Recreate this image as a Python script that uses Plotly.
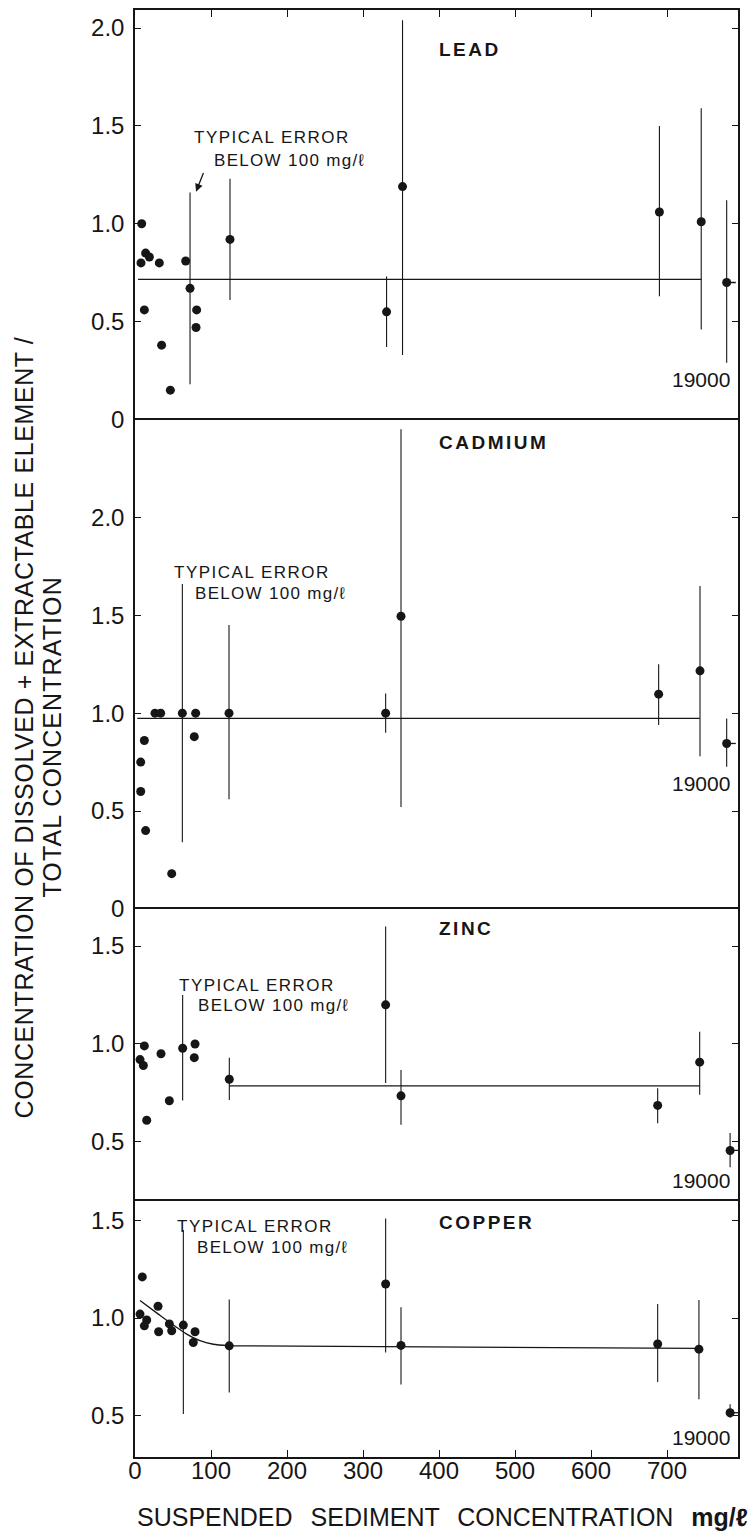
import plotly.graph_objects as go
from plotly.subplots import make_subplots

FONT = "Liberation Sans, Arial, Helvetica, sans-serif"
INK = "#161616"

# Suspended sediment concentration (mg/l) and concentration ratios for each element.
# Points plotted without error bars
lead_x = [7.9, 8.8, 12.3, 14.0, 18.9, 32.0, 35.0, 46.5, 66.7, 80.3, 81.1]
lead_y = [0.80, 1.00, 0.56, 0.85, 0.83, 0.80, 0.38, 0.15, 0.81, 0.47, 0.56]
# Points with error bars (value, upper end, lower end)
lead_ex = [72.4, 125, 331, 352, 690, 745]
lead_ey = [0.67, 0.92, 0.55, 1.19, 1.06, 1.01]
lead_hi = [1.16, 1.23, 0.73, 2.04, 1.50, 1.59]
lead_lo = [0.18, 0.61, 0.37, 0.33, 0.63, 0.46]
# 19000 mg/l sample, placed at the break beyond 700
lead_far = dict(x=778.5, y=0.70, hi=1.12, lo=0.29)
lead_mean = dict(x=[4, 745], y=[0.716, 0.716])

cad_x = [7.5, 7.5, 12.3, 14.0, 26.3, 33.8, 48.3, 79.8, 78.0]
cad_y = [0.75, 0.60, 0.86, 0.40, 1.00, 1.00, 0.18, 1.00, 0.88]
cad_ex = [62.3, 123.7, 329.8, 350, 689, 743.4]
cad_ey = [1.00, 1.00, 1.00, 1.495, 1.097, 1.216]
cad_hi = [1.66, 1.45, 1.10, 2.45, 1.25, 1.65]
cad_lo = [0.34, 0.56, 0.90, 0.52, 0.94, 0.78]
cad_far = dict(x=778.5, y=0.845, hi=0.973, lo=0.726)
cad_mean = dict(x=[3, 743], y=[0.973, 0.973])

zinc_x = [6.6, 11.0, 12.3, 15.4, 34.2, 45.2, 79.0, 78.0]
zinc_y = [0.92, 0.89, 0.99, 0.61, 0.95, 0.71, 1.00, 0.93]
zinc_ex = [62.7, 124.1, 329.8, 350, 687.7, 743]
zinc_ey = [0.978, 0.82, 1.20, 0.735, 0.686, 0.907]
zinc_hi = [1.25, 0.93, 1.60, 0.867, 0.774, 1.063]
zinc_lo = [0.711, 0.714, 0.80, 0.587, 0.595, 0.74]
zinc_far = dict(x=783, y=0.456, hi=0.545, lo=0.37)
zinc_mean = dict(x=[124, 743], y=[0.786, 0.786])

cu_x = [9.6, 6.6, 15.4, 12.3, 30.3, 31.1, 45.2, 48.3, 79.0, 76.7]
cu_y = [1.21, 1.02, 0.99, 0.96, 1.06, 0.93, 0.97, 0.935, 0.93, 0.875]
cu_ex = [63.6, 124, 329.8, 350, 687.7, 742]
cu_ey = [0.964, 0.858, 1.174, 0.86, 0.867, 0.841]
cu_hi = [1.45, 1.094, 1.508, 1.055, 1.072, 1.092]
cu_lo = [0.51, 0.619, 0.824, 0.66, 0.673, 0.585]
cu_far = dict(x=783, y=0.516, hi=0.559, lo=0.49)
# hand-fitted trend: curved segment below ~125 mg/l, then flat
cu_curve_x = [6.6, 30.7, 50.4, 68, 85.5, 103, 124]
cu_curve_y = [1.089, 1.02, 0.964, 0.918, 0.884, 0.866, 0.858]
cu_flat = dict(x=[124, 742], y=[0.858, 0.845])

x_ticks = [0, 100, 200, 300, 400, 500, 600, 700]

panels = [
    dict(name="LEAD", x=lead_x, y=lead_y, ex=lead_ex, ey=lead_ey, hi=lead_hi, lo=lead_lo,
         far=lead_far, lines=[(lead_mean["x"], lead_mean["y"], "linear")],
         yrange=[0, 2.092], yticks=[0, 0.5, 1.0, 1.5, 2.0],
         label_y=1.89, err_txt=(74.6, 1.443, 100.9, 1.325), far_lbl_y=0.205),
    dict(name="CADMIUM", x=cad_x, y=cad_y, ex=cad_ex, ey=cad_ey, hi=cad_hi, lo=cad_lo,
         far=cad_far, lines=[(cad_mean["x"], cad_mean["y"], "linear")],
         yrange=[0, 2.5], yticks=[0, 0.5, 1.0, 1.5, 2.0],
         label_y=2.384, err_txt=(48.7, 1.721, 76.3, 1.612), far_lbl_y=0.643),
    dict(name="ZINC", x=zinc_x, y=zinc_y, ex=zinc_ex, ey=zinc_ey, hi=zinc_hi, lo=zinc_lo,
         far=zinc_far, lines=[(zinc_mean["x"], zinc_mean["y"], "linear")],
         yrange=[0.2, 1.69], yticks=[0.5, 1.0, 1.5],
         label_y=1.59, err_txt=(55.3, 1.301, 80.3, 1.199), far_lbl_y=0.30),
    dict(name="COPPER", x=cu_x, y=cu_y, ex=cu_ex, ey=cu_ey, hi=cu_hi, lo=cu_lo,
         far=cu_far, lines=[(cu_curve_x, cu_curve_y, "spline"), (cu_flat["x"], cu_flat["y"], "linear")],
         yrange=[0.29, 1.60], yticks=[0.5, 1.0, 1.5],
         label_y=1.49, err_txt=(52.6, 1.467, 79.0, 1.359), far_lbl_y=0.39),
]

heights = [p["yrange"][1] - p["yrange"][0] for p in panels]
fig = make_subplots(rows=4, cols=1, vertical_spacing=0, row_heights=heights)

def ticktext(v):
    return "0" if v == 0 else f"{v:.1f}"

for i, p in enumerate(panels, start=1):
    for lx, ly, shape in p["lines"]:
        fig.add_trace(go.Scatter(x=lx, y=ly, mode="lines",
                                 line=dict(color=INK, width=1.3, shape=shape, smoothing=0.6),
                                 hoverinfo="skip"), row=i, col=1)
    fig.add_trace(go.Scatter(
        x=p["ex"], y=p["ey"], mode="markers",
        marker=dict(size=9, color=INK),
        error_y=dict(type="data", symmetric=False,
                     array=[h - v for h, v in zip(p["hi"], p["ey"])],
                     arrayminus=[v - l for v, l in zip(p["ey"], p["lo"])],
                     width=0, thickness=1.1, color=INK)), row=i, col=1)
    f = p["far"]
    fig.add_trace(go.Scatter(
        x=[f["x"]], y=[f["y"]], mode="markers",
        marker=dict(size=9, color=INK),
        error_y=dict(type="data", symmetric=False, array=[f["hi"] - f["y"]],
                     arrayminus=[f["y"] - f["lo"]], width=0, thickness=1.1, color=INK),
        error_x=dict(type="data", symmetric=False, array=[12], arrayminus=[0],
                     width=0, thickness=1.3, color=INK)), row=i, col=1)
    fig.add_trace(go.Scatter(x=p["x"], y=p["y"], mode="markers",
                             marker=dict(size=9, color=INK)), row=i, col=1)

    fig.update_yaxes(range=p["yrange"], tickvals=p["yticks"],
                     ticktext=[ticktext(v) for v in p["yticks"]],
                     ticks="inside", ticklen=6, tickwidth=1.2, tickcolor=INK,
                     mirror="ticks", showline=True, linecolor=INK, linewidth=1.5,
                     showgrid=False, zeroline=False, ticklabelstandoff=4,
                     tickfont=dict(family=FONT, size=24, color=INK), row=i, col=1)
    # each panel draws its own top edge; the last one also closes the bottom
    xa = dict(range=[0, 793.4], showgrid=False, zeroline=False, showline=True,
              linecolor=INK, linewidth=1.5)
    if i == 1:
        xa.update(side="top", mirror=False, ticks="inside", tickvals=x_ticks[1:],
                  ticklen=7, tickwidth=1.2, tickcolor=INK, showticklabels=False)
    elif i == 4:
        xa.update(side="bottom", mirror=True, ticks="inside", tickvals=x_ticks,
                  ticklen=7, tickwidth=1.2, tickcolor=INK, ticklabelstandoff=-9,
                  tickfont=dict(family=FONT, size=24, color=INK))
    else:
        xa.update(side="top", mirror=False, ticks="", showticklabels=False)
    fig.update_xaxes(**xa, row=i, col=1)

    xr = "x" if i == 1 else f"x{i}"
    yr = "y" if i == 1 else f"y{i}"
    tx1, ty1, tx2, ty2 = p["err_txt"]
    fig.add_annotation(x=397, y=p["label_y"], xref=xr, yref=yr, showarrow=False,
                       xanchor="left", yanchor="middle",
                       text=f'<span style="letter-spacing:2.5px"><b>{p["name"]}</b></span>',
                       font=dict(family=FONT, size=19, color=INK))
    fig.add_annotation(x=tx1, y=ty1, xref=xr, yref=yr, showarrow=False,
                       xanchor="left", yanchor="middle",
                       text='<span style="letter-spacing:1.5px">TYPICAL ERROR</span>',
                       font=dict(family=FONT, size=17, color=INK))
    fig.add_annotation(x=tx2, y=ty2, xref=xr, yref=yr, showarrow=False,
                       xanchor="left", yanchor="middle",
                       text='<span style="letter-spacing:1.3px">BELOW 100 mg/ℓ</span>',
                       font=dict(family=FONT, size=17, color=INK))
    fig.add_annotation(x=786, y=p["far_lbl_y"], xref=xr, yref=yr, showarrow=False,
                       xanchor="right", yanchor="middle", text="19000",
                       font=dict(family=FONT, size=21, color=INK))

# arrow pointing at the lead error bar
fig.add_annotation(x=80.3, y=1.164, ax=90.8, ay=1.267, xref="x", yref="y",
                   axref="x", ayref="y", text="", showarrow=True,
                   arrowhead=2, arrowsize=1.2, arrowwidth=1.3, arrowcolor=INK)

# axis titles
fig.add_annotation(x=0, y=-0.0413, xref="paper", yref="paper", showarrow=False,
                   xanchor="left", yanchor="middle",
                   text='<span style="word-spacing:11px">SUSPENDED SEDIMENT CONCENTRATION <b>mg/ℓ</b></span>',
                   font=dict(family=FONT, size=25, color=INK))
fig.add_annotation(x=-0.1841, y=0.5042, xref="paper", yref="paper", showarrow=False,
                   textangle=-90, xanchor="center", yanchor="middle",
                   text='<span style="letter-spacing:0.6px">CONCENTRATION OF DISSOLVED + EXTRACTABLE ELEMENT /</span>',
                   font=dict(family=FONT, size=25, color=INK))
fig.add_annotation(x=-0.1376, y=0.4972, xref="paper", yref="paper", showarrow=False,
                   textangle=-90, xanchor="center", yanchor="middle",
                   text='<span style="letter-spacing:1.1px">TOTAL CONCENTRATION</span>',
                   font=dict(family=FONT, size=25, color=INK))

fig.update_layout(width=755, height=1534, margin=dict(l=135, r=17, t=10, b=77),
                  showlegend=False, plot_bgcolor="white", paper_bgcolor="white",
                  hovermode=False, font=dict(family=FONT, color=INK))

fig.write_html("out.html")
